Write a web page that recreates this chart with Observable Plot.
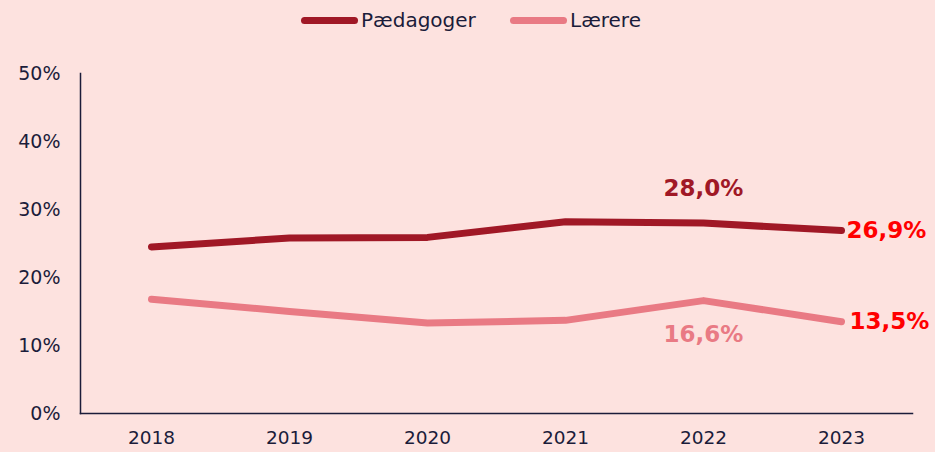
<!DOCTYPE html>
<html><head><meta charset="utf-8">
<script src="https://cdn.jsdelivr.net/npm/d3@7"></script>
<script src="https://cdn.jsdelivr.net/npm/@observablehq/plot@0.6"></script>
<style>
html,body{margin:0;padding:0;background:#fde2df;}
body{width:935px;height:452px;overflow:hidden;font-family:"DejaVu Sans",sans-serif;color:#1b1c3a;}
#legend{height:50px;position:relative;}
.item{position:absolute;top:8px;display:flex;align-items:center;font-size:20px;}
.sw{width:57px;height:7px;border-radius:4px;margin-right:3px;}
</style></head>
<body>
<div id="legend"></div>
<div id="chart"></div>
<script>
const years = ["2018","2019","2020","2021","2022","2023"];
const seriesNames = ["Pædagoger","Lærere"];
const paedagoger = [24.5, 25.8, 25.9, 28.2, 28.0, 26.9];
const laerere = [16.8, 15.0, 13.3, 13.7, 16.6, 13.5];
const yTicks = [0, 10, 20, 30, 40, 50];
const colors = ["#a01826", "#e97a84"];
const labelRed = "#ff0000";

const data = [];
years.forEach((y, i) => {
  data.push({year: y, value: paedagoger[i], series: seriesNames[0]});
  data.push({year: y, value: laerere[i], series: seriesNames[1]});
});
const fmt = v => v.toFixed(1).replace(".", ",") + "%";

// legend
const leg = document.getElementById("legend");
const legX = [301, 510];
seriesNames.forEach((n, i) => {
  const d = document.createElement("div");
  d.className = "item";
  d.style.left = legX[i] + "px";
  d.innerHTML = `<span class="sw" style="background:${colors[i]}"></span><span>${n}</span>`;
  leg.appendChild(d);
});

const last = years.length - 1;
const peakIdx = 4;
const plot = Plot.plot({
  width: 935,
  height: 402,
  marginLeft: 80,
  marginRight: 23,
  marginTop: 23,
  marginBottom: 39,
  style: {background: "transparent", fontFamily: "DejaVu Sans, sans-serif", fontSize: "18px", color: "#1b1c3a"},
  x: {type: "point", domain: years, padding: 0.5, label: null},
  y: {domain: [0, 50], ticks: yTicks, label: null, tickFormat: d => d + "%"},
  color: {domain: seriesNames, range: colors},
  marks: [
    Plot.axisY({ticks: yTicks, tickSize: 0, tickPadding: 20, tickFormat: d => d + "%", fontSize: 19, label: null}),
    Plot.axisX({tickSize: 0, tickPadding: 17, fontSize: 18.5, label: null}),
    Plot.frame({anchor: "left", stroke: "#1b1c3a", strokeWidth: 1.5, strokeOpacity: 1}),
    Plot.frame({anchor: "bottom", stroke: "#1b1c3a", strokeWidth: 1.5, strokeOpacity: 1}),
    Plot.line(data, {x: "year", y: "value", stroke: "series", z: "series", strokeWidth: 7, strokeLinecap: "round", strokeLinejoin: "round"}),
    Plot.text([{year: years[peakIdx], value: paedagoger[peakIdx]}], {x: "year", y: "value", text: d => fmt(d.value), dy: -34, fill: colors[0], fontWeight: "bold", fontSize: 23}),
    Plot.text([{year: years[peakIdx], value: laerere[peakIdx]}], {x: "year", y: "value", text: d => fmt(d.value), dy: 34, fill: colors[1], fontWeight: "bold", fontSize: 23}),
    Plot.text([{year: years[last], value: paedagoger[last]}], {x: "year", y: "value", text: d => fmt(d.value), dx: 5, textAnchor: "start", fill: labelRed, fontWeight: "bold", fontSize: 23}),
    Plot.text([{year: years[last], value: laerere[last]}], {x: "year", y: "value", text: d => fmt(d.value), dx: 8, textAnchor: "start", fill: labelRed, fontWeight: "bold", fontSize: 23})
  ]
});
document.getElementById("chart").appendChild(plot);
</script>
</body></html>
